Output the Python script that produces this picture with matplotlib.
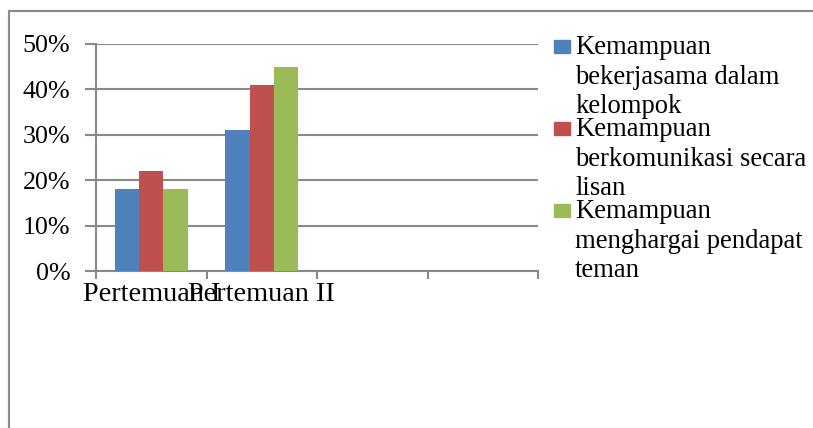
import matplotlib.pyplot as plt
from matplotlib.patches import Rectangle
import numpy as np

plt.rcParams['font.family'] = ['Liberation Serif', 'DejaVu Serif']

categories = ['Pertemuan I', 'Pertemuan II', '', '']
series = [['Kemampuan', 'bekerjasama dalam', 'kelompok'],
          ['Kemampuan', 'berkomunikasi secara', 'lisan'],
          ['Kemampuan', 'menghargai pendapat', 'teman']]
values = [[18, 31], [22, 41], [18, 45]]
colors = ['#4F81BD', '#C0504D', '#9BBB59']
yticks = [0, 10, 20, 30, 40, 50]

W, H = 813, 428
grey = '#898989'

fig = plt.figure(figsize=(W / 100, H / 100), dpi=100)
ax = fig.add_axes([96 / W, 1 - 271 / H, (538 - 96) / W, (271 - 44) / H])

# clustered bars, width 0.22 per series
bw = 0.22
x = np.arange(len(values[0]))
for i, (vals, c) in enumerate(zip(values, colors)):
    ax.bar(x + (i - 1) * bw, vals, bw, color=c, zorder=3)

ax.set_xlim(-0.5, len(categories) - 0.5)
ax.set_ylim(0, 50)
ax.set_yticks(yticks)
ax.set_yticklabels([f'{v}%' for v in yticks], fontsize=18.7)
ax.yaxis.grid(True, color=grey, lw=1.5, zorder=0)
ax.tick_params(axis='y', length=8, width=1.5, color=grey, pad=10.5)

# category boundaries as ticks, names as tickless minor labels
ax.set_xticks(np.arange(len(categories) + 1) - 0.5)
ax.set_xticklabels([])
ax.tick_params(axis='x', which='major', length=6, width=1.5, color=grey)
ax.set_xticks(np.arange(len(categories)), minor=True)
ax.set_xticklabels(categories, minor=True, fontsize=20.3)
ax.tick_params(axis='x', which='minor', length=0, pad=8.2)

for s in ['top', 'right']:
    ax.spines[s].set_visible(False)
for s in ['left', 'bottom']:
    ax.spines[s].set_color(grey)
    ax.spines[s].set_linewidth(1.5)

# legend drawn by hand: square + wrapped label, one text per line
for i, (lines, c) in enumerate(zip(series, colors)):
    top = 40 + i * 82
    fig.patches.append(Rectangle((554 / W, 1 - (top + 13) / H), 16 / W, 13 / H,
                                 transform=fig.transFigure, color=c))
    for k, line in enumerate(lines):
        fig.text(575 / W, 1 - (top + 14 + k * 29.5) / H, line, fontsize=19.2,
                 va='baseline', ha='left')

# chart area border, cut off at the right and bottom
fig.patches.append(Rectangle((8.5 / W, -0.1), 1.2, 1 - 10.5 / H + 0.1,
                             transform=fig.transFigure, fill=False,
                             edgecolor='#8c8c8c', lw=1.6))

fig.savefig('out.png', dpi=100)
